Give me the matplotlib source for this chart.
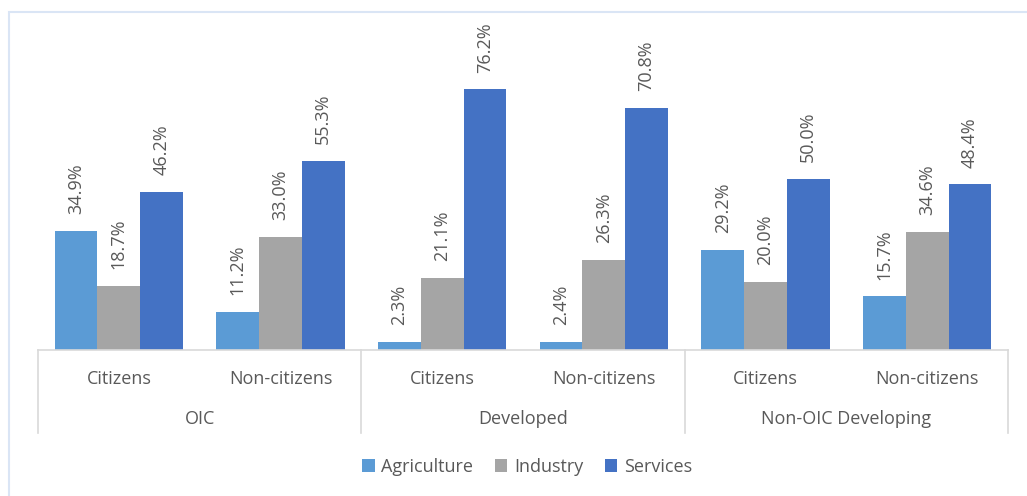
import matplotlib.pyplot as plt
from matplotlib.patches import Rectangle
from matplotlib.lines import Line2D
import numpy as np

plt.rcParams['font.family'] = ['Open Sans', 'DejaVu Sans']

groups = ["OIC", "Developed", "Non-OIC Developing"]
subgroups = ["Citizens", "Non-citizens"]
sectors = ["Agriculture", "Industry", "Services"]
agriculture = [34.9, 11.2, 2.3, 2.4, 29.2, 15.7]
industry = [18.7, 33.0, 21.1, 26.3, 20.0, 34.6]
services = [46.2, 55.3, 76.2, 70.8, 50.0, 48.4]

colors = ["#5B9BD5", "#A5A5A5", "#4472C4"]
txt = "#595959"
W, H = 1027, 496

fig = plt.figure(figsize=(W / 100, H / 100), dpi=100)
# light blue frame around the chart area
fig.patches.append(Rectangle((9 / W, -0.1), 1.1, 1 - 12 / H + 0.1, transform=fig.transFigure,
                             fill=False, edgecolor="#dae5f5", linewidth=1.5))

# axes box in pixels: x 38..1008, baseline at y=350, top at y=42
ax = fig.add_axes([38 / W, 1 - 350 / H, 970 / W, 308 / H])
ax.set_xlim(-0.5, 5.5)
ax.set_ylim(0, 90)
for s in ["top", "right", "left"]:
    ax.spines[s].set_visible(False)
ax.spines["bottom"].set_color("#d9d9d9")
ax.spines["bottom"].set_linewidth(1.2)
ax.set_xticks([])
ax.set_yticks([])

x = np.arange(len(agriculture))
bw = 0.264
series = [agriculture, industry, services]
for i, (vals, name, c) in enumerate(zip(series, sectors, colors)):
    pos = x + (i - 1) * bw
    ax.bar(pos, vals, width=bw, color=c, label=name, zorder=2)
    for px, v in zip(pos, vals):
        ax.annotate(f"{v:.1f}%", (px, v), xytext=(0, 12), textcoords="offset points",
                    rotation=90, ha="center", va="bottom", color=txt, fontsize=13)

# two-level category axis
xt = ax.get_xaxis_transform()
ph = 308.0
def yfrac(py):
    return (350 - py) / ph

for b in [-0.5, 1.5, 3.5, 5.5]:
    ax.add_line(Line2D([b, b], [0, yfrac(433)], transform=xt, color="#d9d9d9",
                       linewidth=1.2, clip_on=False))
for i in x:
    ax.text(i, yfrac(379), subgroups[i % 2], transform=xt, ha="center", va="center",
            color=txt, fontsize=13)
for g, name in enumerate(groups):
    ax.text(2 * g + 0.5, yfrac(419), name, transform=xt, ha="center", va="center",
            color=txt, fontsize=13)

fig.legend(loc="center", bbox_to_anchor=(527 / W, 1 - 467 / H), ncol=3, frameon=False,
           fontsize=13, labelcolor=txt, handlelength=0.7, handleheight=0.7,
           handletextpad=0.35, columnspacing=1.2)

fig.savefig("out.png", dpi=100)
